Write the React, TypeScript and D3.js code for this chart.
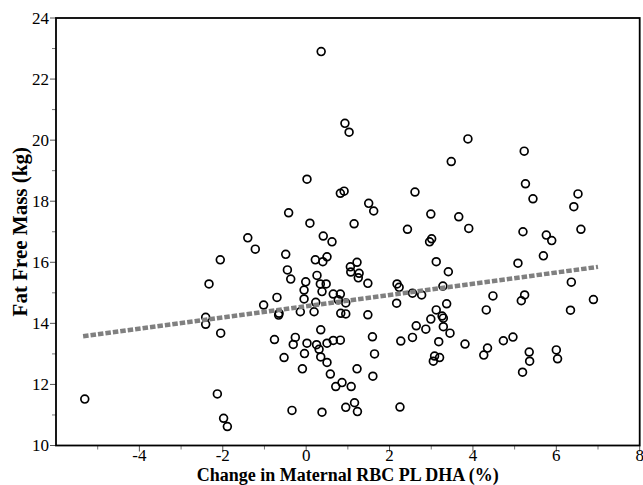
import React from 'react';
import * as d3 from 'd3';

const xVals = [
  -5.31, -2.13, -1.98, -1.89, 0.02, 0.82, 0.91, -0.42, 0.09, -1.40,
  -1.22, 0.41, 0.62, -2.06, -0.49, 0.22, 0.40, 0.50, -0.45, -0.37,
  0.26, -0.01, 0.34, 0.48, -2.33, 1.06, 1.07, 1.15, -0.05, 0.38,
  0.65, 0.82, -0.70, -0.05, 0.23, 0.77, 0.95, -1.02, -2.41, -2.41,
  -0.65, -0.66, -0.14, 0.19, 0.83, 0.95, -2.05, -0.76, -0.26, -0.31,
  0.02, 0.25, 0.35, 0.50, 0.65, 0.82, 0.31, 0.35, -0.04, -0.53,
  0.50, -0.09, 0.58, 0.71, 0.86, 1.08, -0.34, 0.38, 0.95, 0.36,
  0.93, 1.03, 3.48, 3.88, 2.61, 1.50, 1.62, 2.99, 3.66, 3.90,
  2.43, 3.01, 2.96, 3.12, 3.41, 1.22, 1.27, 1.25, 1.48, 2.18,
  2.23, 3.28, 2.55, 2.77, 2.17, 3.37, 3.12, 2.99, 3.26, 3.29,
  2.64, 2.87, 3.29, 3.45, 1.48, 1.59, 2.55, 2.27, 3.18, 3.81,
  1.64, 3.08, 3.20, 3.05, 1.22, 1.60, 1.16, 1.23, 2.25, 5.23,
  5.26, 5.44, 6.52, 6.42, 5.20, 5.76, 5.89, 6.59, 5.69, 5.08,
  6.36, 4.48, 5.24, 5.16, 4.32, 6.89, 6.34, 4.96, 4.73, 4.35,
  4.26, 5.35, 5.36, 5.19, 6.00, 6.03,
];

const yVals = [
  11.52, 11.69, 10.89, 10.62, 18.72, 18.26, 18.33, 17.62, 17.28, 16.80,
  16.43, 16.86, 16.67, 16.08, 16.26, 16.08, 16.02, 16.18, 15.75, 15.45,
  15.57, 15.36, 15.29, 15.29, 15.29, 15.85, 15.68, 17.26, 15.09, 15.04,
  14.96, 14.96, 14.85, 14.80, 14.69, 14.77, 14.67, 14.60, 14.20, 13.97,
  14.33, 14.27, 14.38, 14.38, 14.33, 14.31, 13.68, 13.47, 13.54, 13.31,
  13.35, 13.30, 13.79, 13.35, 13.44, 13.45, 13.15, 12.90, 13.01, 12.88,
  12.72, 12.51, 12.34, 11.93, 12.06, 11.93, 11.15, 11.09, 11.25, 22.90,
  20.55, 20.26, 19.30, 20.04, 18.30, 17.93, 17.68, 17.58, 17.49, 17.11,
  17.08, 16.77, 16.67, 16.02, 15.69, 16.00, 15.64, 15.49, 15.31, 15.29,
  15.18, 15.22, 14.99, 14.93, 14.66, 14.64, 14.44, 14.14, 14.24, 14.17,
  13.92, 13.81, 13.89, 13.68, 14.28, 13.56, 13.54, 13.42, 13.40, 13.32,
  13.00, 12.93, 12.88, 12.76, 12.51, 12.27, 11.40, 11.11, 11.26, 19.64,
  18.57, 18.08, 18.24, 17.82, 17.00, 16.89, 16.71, 17.08, 16.21, 15.97,
  15.35, 14.90, 14.93, 14.74, 14.44, 14.78, 14.43, 13.55, 13.43, 13.19,
  12.96, 13.06, 12.76, 12.40, 13.13, 12.84,
];

const xTicks = [-4, -2, 0, 2, 4, 6, 8];
const xMinorTicks = [-5, -3, -1, 1, 3, 5, 7];
const yTicks = [10, 12, 14, 16, 18, 20, 22, 24];
const yMinorTicks = [11, 13, 15, 17, 19, 21, 23];
const trendX = [-5.35, 7.0];
const trendY = [13.58, 15.85];

const xTitle = 'Change in Maternal RBC PL DHA (%)';
const yTitle = 'Fat Free Mass (kg)';

const W = 643;
const H = 485;
const FONT = '"Liberation Serif", "DejaVu Serif", serif';

export default function App() {
  const x = d3.scaleLinear().domain([-6, 8]).range([56, 639.7]);
  const y = d3.scaleLinear().domain([10, 24]).range([445.5, 18]);
  const [x0, x1] = x.range();
  const [y0, y1] = y.range();

  const points = xVals.map((v, i) => ({ x: v, y: yVals[i] }));
  const trend = trendX.map((v, i) => [v, trendY[i]] as [number, number]);
  const line = d3
    .line<[number, number]>()
    .x((d) => x(d[0]))
    .y((d) => y(d[1]));

  return (
    <svg
      width={W}
      height={H}
      style={{ position: 'absolute', left: 0, top: 0, background: '#fff' }}
      fontFamily={FONT}
    >
      <rect x={0} y={0} width={W} height={H} fill="#fff" />
      {/* ticks */}
      {xTicks.map((t) => (
        <line key={'xt' + t} x1={x(t)} x2={x(t)} y1={y0} y2={y0 + 6} stroke="#555" strokeWidth={1} />
      ))}
      {xMinorTicks.map((t) => (
        <line key={'xm' + t} x1={x(t)} x2={x(t)} y1={y0} y2={y0 + 4} stroke="#777" strokeWidth={1} />
      ))}
      {yTicks.map((t) => (
        <line key={'yt' + t} x1={x0 - 6} x2={x0} y1={y(t)} y2={y(t)} stroke="#555" strokeWidth={1} />
      ))}
      {yMinorTicks.map((t) => (
        <line key={'ym' + t} x1={x0 - 4} x2={x0} y1={y(t)} y2={y(t)} stroke="#777" strokeWidth={1} />
      ))}
      {/* tick labels */}
      {xTicks.map((t) => (
        <text key={'xl' + t} x={x(t)} y={461} textAnchor="middle" fontSize={17} fill="#000">
          {t < 0 ? '-' + Math.abs(t) : String(t)}
        </text>
      ))}
      {yTicks.map((t) => (
        <text key={'yl' + t} x={x0 - 7} y={y(t)} dy="0.35em" textAnchor="end" fontSize={17} fill="#000">
          {t}
        </text>
      ))}
      {/* points */}
      {points.map((p, i) => (
        <circle key={'p' + i} cx={x(p.x)} cy={y(p.y)} r={3.9} fill="none" stroke="#000" strokeWidth={1.7} />
      ))}
      {/* trend line */}
      <path
        d={line(trend) || ''}
        fill="none"
        stroke="#808080"
        strokeWidth={4.5}
        strokeDasharray="5.5,2"
      />
      {/* frame */}
      <rect x={x0} y={y1} width={x1 - x0} height={y0 - y1} fill="none" stroke="#000" strokeWidth={1.8} />
      {/* titles */}
      <text x={(x0 + x1) / 2} y={480.5} textAnchor="middle" fontSize={18} fontWeight="bold" fill="#000">
        {xTitle}
      </text>
      <text
        transform={`translate(27, ${(y0 + y1) / 2}) rotate(-90)`}
        textAnchor="middle"
        fontSize={21}
        fontWeight="bold"
        fill="#000"
      >
        {yTitle}
      </text>
    </svg>
  );
}
